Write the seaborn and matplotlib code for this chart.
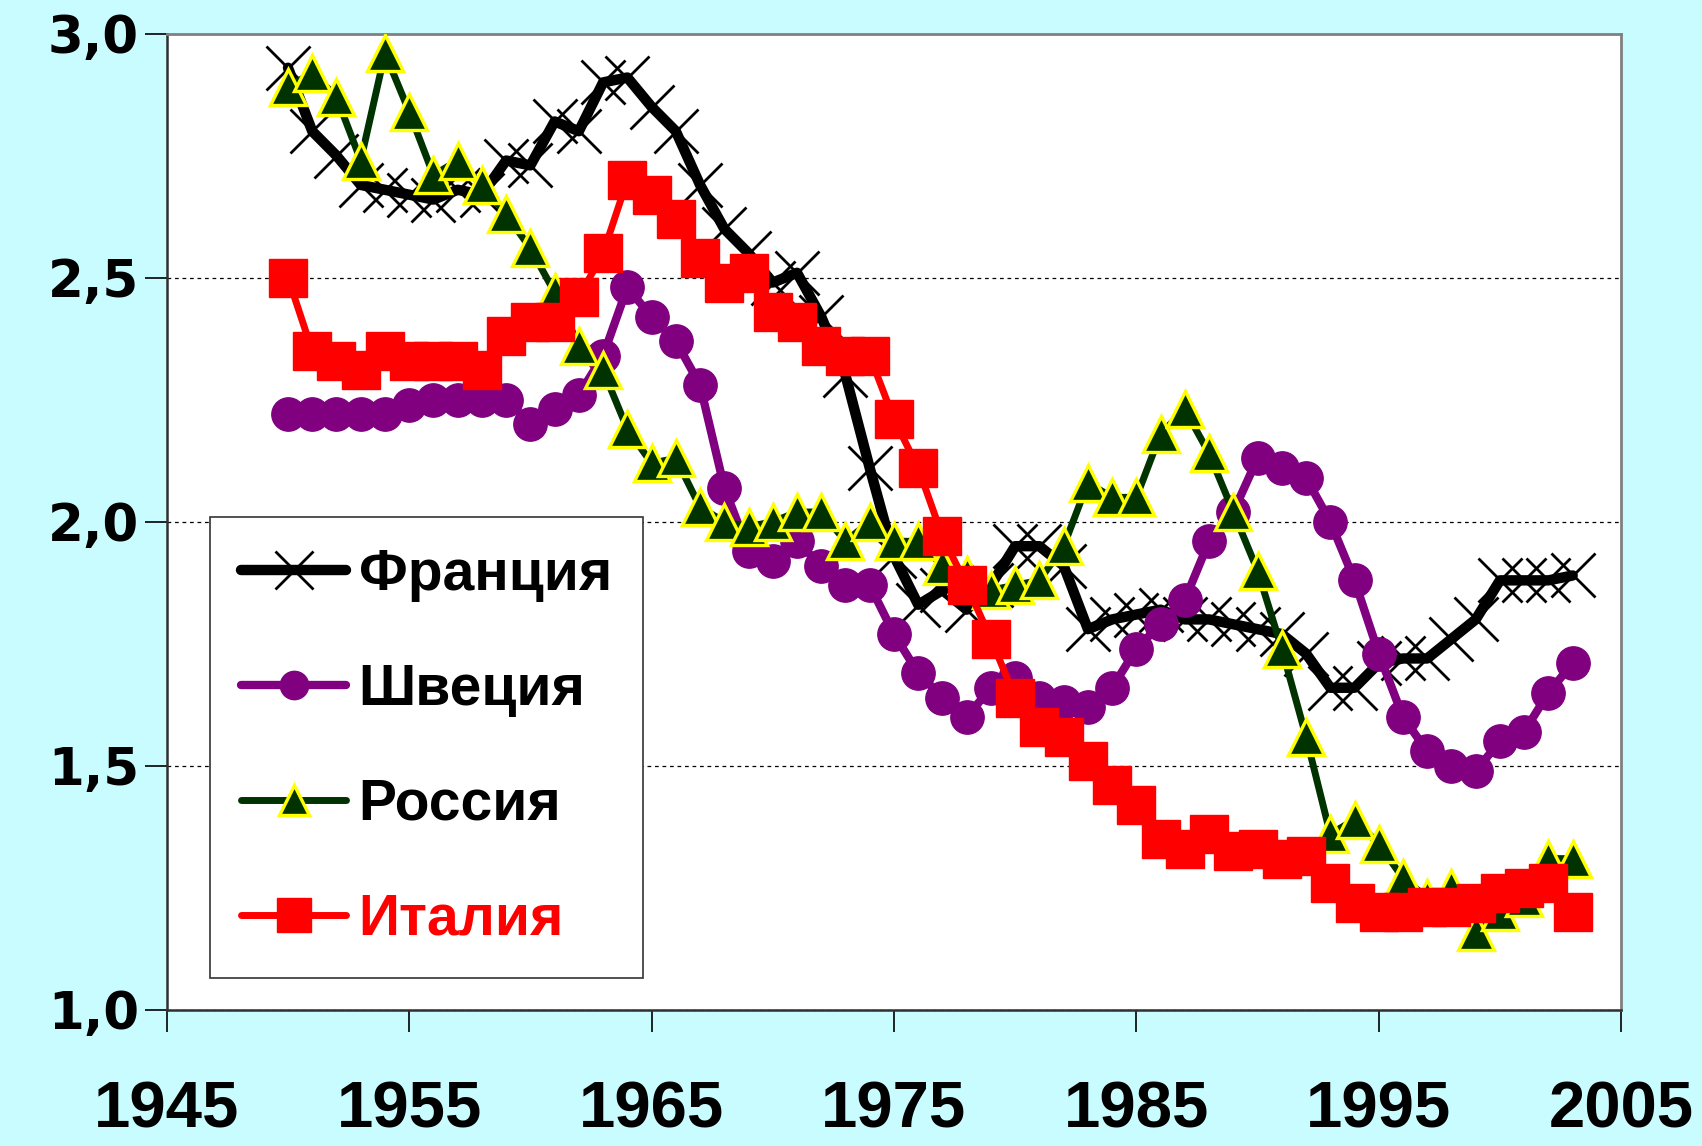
import matplotlib
matplotlib.use("Agg")
import matplotlib.pyplot as plt
import seaborn as sns
import pandas as pd

# ---- data ----
years = list(range(1950, 2004))

france = [2.93, 2.80, 2.75, 2.69, 2.68, 2.67, 2.66, 2.68, 2.67, 2.74,
          2.73, 2.82, 2.80, 2.90, 2.91, 2.85, 2.80, 2.69, 2.60, 2.55,
          2.49, 2.51, 2.42, 2.30, 2.11, 1.93, 1.83, 1.86, 1.82, 1.87,
          1.95, 1.95, 1.91, 1.78, 1.80, 1.81, 1.82, 1.80, 1.80, 1.79,
          1.78, 1.77, 1.73, 1.66, 1.66, 1.71, 1.72, 1.72, 1.76, 1.80,
          1.88, 1.88, 1.88, 1.89]

sweden = [2.22, 2.22, 2.22, 2.22, 2.22, 2.24, 2.25, 2.25, 2.25, 2.25,
          2.20, 2.23, 2.26, 2.34, 2.48, 2.42, 2.37, 2.28, 2.07, 1.94,
          1.92, 1.96, 1.91, 1.87, 1.87, 1.77, 1.69, 1.64, 1.60, 1.66,
          1.68, 1.64, 1.63, 1.62, 1.66, 1.74, 1.79, 1.84, 1.96, 2.02,
          2.13, 2.11, 2.09, 2.00, 1.88, 1.73, 1.60, 1.53, 1.50, 1.49,
          1.55, 1.57, 1.65, 1.71]

russia = [2.89, 2.92, 2.87, 2.74, 2.96, 2.84, 2.71, 2.74, 2.69, 2.63,
          2.56, 2.47, 2.36, 2.31, 2.19, 2.12, 2.13, 2.03, 2.00, 1.99,
          2.00, 2.02, 2.02, 1.96, 2.00, 1.96, 1.96, 1.91, 1.89, 1.86,
          1.87, 1.88, 1.95, 2.08, 2.05, 2.05, 2.18, 2.23, 2.14, 2.02,
          1.90, 1.74, 1.56, 1.36, 1.39, 1.34, 1.27, 1.23, 1.25, 1.16,
          1.20, 1.23, 1.31, 1.31]

italy = [2.50, 2.35, 2.33, 2.31, 2.35, 2.33, 2.33, 2.33, 2.31, 2.38,
         2.41, 2.41, 2.46, 2.55, 2.70, 2.67, 2.62, 2.54, 2.49, 2.51,
         2.43, 2.41, 2.36, 2.34, 2.34, 2.21, 2.11, 1.97, 1.87, 1.76,
         1.64, 1.58, 1.56, 1.51, 1.46, 1.42, 1.35, 1.33, 1.36, 1.325,
         1.33, 1.31, 1.315, 1.26, 1.22, 1.20, 1.20, 1.21, 1.21, 1.22,
         1.24, 1.25, 1.26, 1.20]

series_names = ["Франция", "Швеция", "Россия", "Италия"]
x_ticks = [1945, 1955, 1965, 1975, 1985, 1995, 2005]
y_ticks = [1.0, 1.5, 2.0, 2.5, 3.0]
y_tick_labels = ["1,0", "1,5", "2,0", "2,5", "3,0"]

# ---- styling ----
sns.set_theme(style="white")
plt.rcParams['font.family'] = ['Liberation Sans', 'DejaVu Sans']
plt.rcParams['text.color'] = 'black'

bg = '#C8FCFF'
fig = plt.figure(figsize=(17.02, 11.46), dpi=100, facecolor=bg)
ax = fig.add_axes([0.098, 0.1187, 0.8545, 0.852])
ax.set_facecolor('white')

values = {"Франция": france, "Швеция": sweden, "Россия": russia, "Италия": italy}
styles = {
    "Франция": dict(color='black', marker='x', markersize=32, markeredgewidth=2.0,
                    markeredgecolor='black', linewidth=7.5, zorder=3),
    "Швеция": dict(color='#800080', marker='o', markersize=24, markeredgewidth=1,
                   markeredgecolor='#800080', linewidth=6, zorder=4),
    "Россия": dict(color='#003300', marker='^', markersize=26, markeredgewidth=2.4,
                   markeredgecolor='#FFFF00', markerfacecolor='#003300',
                   linewidth=5, zorder=5),
    "Италия": dict(color='#FF0000', marker='s', markersize=28, markeredgewidth=1,
                   markeredgecolor='#FF0000', linewidth=5, zorder=6),
}

for name in series_names:
    df = pd.DataFrame({"year": years, "value": values[name]})
    sns.lineplot(data=df, x="year", y="value", ax=ax, label=name,
                 estimator=None, sort=False, **styles[name])

ax.set_xlim(1945, 2005)
ax.set_ylim(1.0, 3.0)
ax.set_xticks(x_ticks)
ax.set_yticks(y_ticks)
ax.set_yticklabels(y_tick_labels)
ax.set_xlabel("")
ax.set_ylabel("")

ax.set_axisbelow(True)
ax.yaxis.grid(True, color='black', linestyle=(0, (3, 3)), linewidth=0.9)
ax.xaxis.grid(False)

for side in ['top', 'right']:
    ax.spines[side].set_color('#808080')
    ax.spines[side].set_linewidth(2)
for side in ['left', 'bottom']:
    ax.spines[side].set_color('#303030')
    ax.spines[side].set_linewidth(1.8)

ax.tick_params(axis='y', direction='out', length=16, width=1.2, color='black',
               pad=4, left=True)
ax.tick_params(axis='x', direction='out', length=16, width=1.2, color='black',
               pad=35, bottom=True)
for t in ax.get_yticklabels():
    t.set_fontfamily(['DejaVu Sans'])
    t.set_fontweight('bold')
    t.set_fontsize(37)
    t.set_color('black')
for t in ax.get_xticklabels():
    t.set_fontfamily(['Liberation Sans', 'DejaVu Sans'])
    t.set_fontweight('bold')
    t.set_fontsize(47)
    t.set_color('black')

handles, labels = ax.get_legend_handles_labels()
leg = ax.legend(handles, labels, loc='lower left', bbox_to_anchor=(0.0294, 0.0328),
                borderaxespad=0, frameon=True, fancybox=False, shadow=False,
                prop=dict(family=['Liberation Sans', 'DejaVu Sans'], weight='bold', size=41),
                handlelength=1.85, handletextpad=0.22, labelspacing=1.07,
                borderpad=0.55, numpoints=1, markerscale=0.85)
leg.get_frame().set_edgecolor('#333333')
leg.get_frame().set_linewidth(1.2)
leg.get_frame().set_facecolor('white')
leg.get_frame().set_alpha(1)
leg.set_zorder(10)
for t in leg.get_texts():
    t.set_color('black')
leg.get_texts()[3].set_color('#FF0000')

fig.savefig("out.png", dpi=100, facecolor=bg)
